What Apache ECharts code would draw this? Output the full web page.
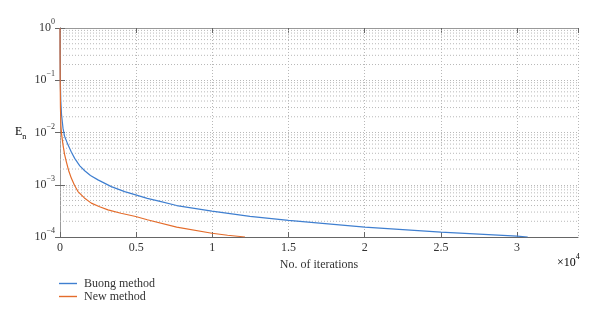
<!DOCTYPE html>
<html>
<head>
<meta charset="utf-8">
<script src="https://cdn.jsdelivr.net/npm/echarts@6/dist/echarts.min.js"></script>
<style>html,body{margin:0;padding:0;background:#fff;}#c{width:600px;height:322px;}</style>
</head>
<body>
<div id="c"></div>
<script>
var seriesNames = ['Buong method', 'New method'];
var buongIter = [1, 5, 20, 50, 100, 197, 300, 525, 750, 965, 1300, 1621, 2000, 2493, 3366, 4245, 4967, 5728, 6500, 7657, 9974, 12467, 15000, 20000, 25000, 30000, 30700];
var buongErr  = [1.0, 0.35, 0.1, 0.042, 0.022, 0.0121, 0.0085, 0.0058, 0.0042, 0.0032, 0.0023, 0.00185, 0.0015, 0.00124, 0.00092, 0.00074, 0.00064, 0.00055, 0.000485, 0.0004, 0.000312, 0.000249, 0.000208, 0.000155, 0.000124, 0.000104, 0.0001];
var newIter = [1, 4, 12, 30, 60, 100, 197, 300, 413, 560, 741, 950, 1181, 1600, 2054, 2600, 3150, 4000, 4967, 5728, 7657, 9974, 11000, 12140];
var newErr  = [1.0, 0.3, 0.1, 0.03, 0.0135, 0.0095, 0.0058, 0.0038, 0.00278, 0.0019, 0.00134, 0.00098, 0.00074, 0.00056, 0.000445, 0.00038, 0.00033, 0.000285, 0.000247, 0.000214, 0.000155, 0.000118, 0.000108, 0.0001];
var xTickStep = 5000, xMax = 34000, xScale = 10000;
var yMin = 1e-4, yMax = 1;

var minorY = [];
for (var d = -4; d < 0; d++) { for (var k = 2; k <= 9; k++) { minorY.push(k * Math.pow(10, d)); } }

function pairs(xs, ys) { return xs.map(function (x, i) { return [x, ys[i]]; }); }
var serif = '"Liberation Serif","DejaVu Serif",serif';
var gridColor = '#b8b8b8';
var axisColor = '#666';
var blue = '#3f7fd0', orange = '#e46c2b';

var gridSeries = minorY.map(function (v) {
  return {
    type: 'line', symbol: 'none', silent: true, z: 1, xAxisIndex: 0, yAxisIndex: 0,
    lineStyle: {color: gridColor, type: [1, 2], width: 1},
    data: [[0, v], [xMax, v]]
  };
});

var chart = echarts.init(document.getElementById('c'), null, {renderer: 'canvas'});
chart.setOption({
  animation: false,
  backgroundColor: '#fff',
  textStyle: {fontFamily: serif},
  grid: {left: 60, top: 28, right: 22, bottom: 85},
  legend: {
    orient: 'vertical', left: 54, top: 272, padding: 5,
    icon: 'rect', itemWidth: 18, itemHeight: 1.4, itemGap: 0,
    textStyle: {fontFamily: serif, fontSize: 12, color: '#333', lineHeight: 13, padding: [0, 0, 0, 2]},
    data: seriesNames
  },
  xAxis: [{
    type: 'value', min: 0, max: xMax, interval: xTickStep,
    name: 'No. of iterations', nameLocation: 'middle', nameGap: 17,
    nameTextStyle: {fontFamily: serif, fontSize: 12, color: '#333'},
    axisLine: {show: true, lineStyle: {color: axisColor, width: 1}},
    axisTick: {show: true, inside: true, length: 5, lineStyle: {color: axisColor}},
    axisLabel: {fontFamily: serif, fontSize: 12, color: '#333', margin: 5, showMaxLabel: false,
      formatter: function (v) { return v > 30000 ? '' : String(v / xScale); }},
    splitLine: {show: true, lineStyle: {color: gridColor, type: [1, 2], width: 1}}
  }, {
    type: 'value', min: 0, max: xMax, interval: xTickStep, position: 'top',
    axisLine: {show: true, lineStyle: {color: '#999', width: 1}},
    axisTick: {show: true, inside: true, length: 5, lineStyle: {color: axisColor}},
    axisLabel: {show: false}, splitLine: {show: false}
  }],
  yAxis: [{
    type: 'log', logBase: 10, min: yMin, max: yMax,
    axisLine: {show: true, lineStyle: {color: axisColor, width: 1}},
    axisTick: {show: true, inside: true, length: 5, lineStyle: {color: axisColor}},
    axisLabel: {
      margin: 5,
      formatter: function (v) {
        var e = Math.round(Math.log(v) / Math.LN10);
        return '{b|10}{s|' + (e < 0 ? '\u2212' + (-e) : e) + '}';
      },
      rich: {
        b: {fontFamily: serif, fontSize: 12, color: '#333', lineHeight: 20, verticalAlign: 'middle'},
        s: {fontFamily: serif, fontSize: 8, color: '#333', lineHeight: 10, verticalAlign: 'top'}
      }
    },
    splitLine: {show: true, lineStyle: {color: gridColor, type: [1, 2], width: 1}}
  }, {
    type: 'log', logBase: 10, min: yMin, max: yMax, position: 'right',
    axisLine: {show: true, lineStyle: {color: '#999', width: 1}},
    axisTick: {show: true, inside: true, length: 5, lineStyle: {color: axisColor}},
    axisLabel: {show: false}, splitLine: {show: false}
  }],
  graphic: [{
    type: 'text', left: 15, top: 126,
    style: {text: '{a|E}{n|n}', rich: {
      a: {fontFamily: serif, fontSize: 12, color: '#333', lineHeight: 18, verticalAlign: 'middle'},
      n: {fontFamily: serif, fontSize: 8, color: '#333', lineHeight: 10, verticalAlign: 'bottom'}
    }}
  }, {
    type: 'text', left: 557, top: 253,
    style: {text: '{a|\u00d710}{s|4}', rich: {
      a: {fontFamily: serif, fontSize: 12, color: '#333', lineHeight: 20, verticalAlign: 'middle'},
      s: {fontFamily: serif, fontSize: 8, color: '#333', lineHeight: 10, verticalAlign: 'top'}
    }}
  }],
  series: gridSeries.concat([{
    name: seriesNames[0], type: 'line', symbol: 'none', z: 3, xAxisIndex: 0, yAxisIndex: 0,
    lineStyle: {color: blue, width: 1.2}, itemStyle: {color: blue},
    data: pairs(buongIter, buongErr)
  }, {
    name: seriesNames[1], type: 'line', symbol: 'none', z: 3, xAxisIndex: 0, yAxisIndex: 0,
    lineStyle: {color: orange, width: 1.2}, itemStyle: {color: orange},
    data: pairs(newIter, newErr)
  }])
});
</script>
</body>
</html>
